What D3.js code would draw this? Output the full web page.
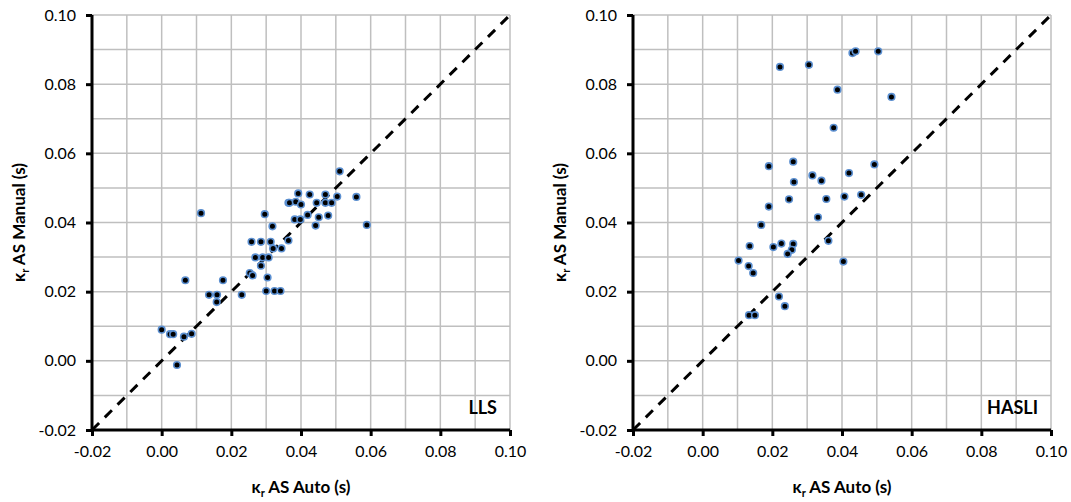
<!DOCTYPE html>
<html>
<head>
<meta charset="utf-8">
<script src="https://cdn.jsdelivr.net/npm/d3@7"></script>
<style>
  html, body { margin: 0; padding: 0; background: #fff; }
  svg { display: block; }
</style>
</head>
<body>
<div id="chart"></div>
<script>
(function () {
  'use strict';

  /* ---------- Data ---------- */
  const llsAuto = [
    0.0113, 0.0068, 0.0000, 0.0024, 0.0033, 0.0044, 0.0064, 0.0086, 0.0136, 0.0159,
    0.0158, 0.0176, 0.0230, 0.0253, 0.0261, 0.0285, 0.0269, 0.0290, 0.0307, 0.0258,
    0.0285, 0.0313, 0.0320, 0.0344, 0.0364, 0.0296, 0.0318, 0.0364, 0.0304, 0.0300,
    0.0324, 0.0341, 0.0511, 0.0392, 0.0425, 0.0470, 0.0367, 0.0385, 0.0400, 0.0445,
    0.0470, 0.0488, 0.0504, 0.0559, 0.0382, 0.0398, 0.0419, 0.0451, 0.0478, 0.0442,
    0.0589
  ];
  const llsManual = [
    0.0427, 0.0233, 0.0090, 0.0077, 0.0077, -0.0012, 0.0070, 0.0078, 0.0191, 0.0191,
    0.0170, 0.0233, 0.0191, 0.0254, 0.0247, 0.0275, 0.0299, 0.0299, 0.0299, 0.0344,
    0.0344, 0.0344, 0.0325, 0.0325, 0.0348, 0.0424, 0.0389, 0.0457, 0.0241, 0.0202,
    0.0202, 0.0202, 0.0548, 0.0484, 0.0481, 0.0481, 0.0457, 0.0460, 0.0452, 0.0457,
    0.0457, 0.0457, 0.0475, 0.0474, 0.0409, 0.0409, 0.0422, 0.0415, 0.0420, 0.0391,
    0.0393
  ];

  const hasliAuto = [
    0.0222, 0.0305, 0.0430, 0.0439, 0.0504, 0.0387, 0.0542, 0.0376, 0.0190, 0.0260,
    0.0315, 0.0341, 0.0420, 0.0493, 0.0262, 0.0248, 0.0355, 0.0407, 0.0455, 0.0190,
    0.0331, 0.0168, 0.0135, 0.0203, 0.0226, 0.0260, 0.0256, 0.0244, 0.0361, 0.0103,
    0.0132, 0.0145, 0.0404, 0.0219, 0.0236, 0.0133, 0.0150
  ];
  const hasliManual = [
    0.0850, 0.0856, 0.0890, 0.0895, 0.0895, 0.0784, 0.0763, 0.0674, 0.0563, 0.0576,
    0.0536, 0.0521, 0.0543, 0.0568, 0.0517, 0.0467, 0.0468, 0.0475, 0.0480, 0.0446,
    0.0415, 0.0393, 0.0332, 0.0329, 0.0339, 0.0338, 0.0321, 0.0309, 0.0347, 0.0290,
    0.0274, 0.0254, 0.0287, 0.0186, 0.0158, 0.0132, 0.0132
  ];

  const tickValues = [-0.02, 0.00, 0.02, 0.04, 0.06, 0.08, 0.10];
  const gridValues = d3.range(-2, 11).map(i => i / 100);
  const xTitle = 'AS Auto (s)';
  const yTitle = 'AS Manual (s)';

  const panels = [
    { name: 'LLS',   auto: llsAuto,   manual: llsManual,   left: 92 },
    { name: 'HASLI', auto: hasliAuto, manual: hasliManual, left: 633 }
  ];

  /* ---------- Layout ---------- */
  const W = 1071, H = 502;
  const plotW = 418, top = 15, bottom = 430;
  const font = 'Lato, "Open Sans", sans-serif';
  const fmt = d => d3.format('.2f')(d).replace('−', '-');

  const svg = d3.select('#chart').append('svg')
    .attr('width', W).attr('height', H);

  panels.forEach(p => {
    const x = d3.scaleLinear().domain([-0.02, 0.10]).range([p.left, p.left + plotW]);
    const y = d3.scaleLinear().domain([-0.02, 0.10]).range([bottom, top]);
    const g = svg.append('g');

    // grid
    g.append('g').selectAll('line.v').data(gridValues).join('line')
      .attr('x1', d => x(d)).attr('x2', d => x(d))
      .attr('y1', top).attr('y2', bottom)
      .attr('stroke', '#bfbfbf').attr('stroke-width', 1.5);
    g.append('g').selectAll('line.h').data(gridValues).join('line')
      .attr('x1', p.left).attr('x2', p.left + plotW)
      .attr('y1', d => y(d)).attr('y2', d => y(d))
      .attr('stroke', '#bfbfbf').attr('stroke-width', 1.5);

    // axes
    const xAxis = d3.axisBottom(x).tickValues(tickValues).tickSize(6).tickPadding(10)
      .tickFormat(fmt);
    const yAxis = d3.axisLeft(y).tickValues(tickValues).tickSize(6).tickPadding(10)
      .tickFormat(fmt);

    const gx = g.append('g').attr('transform', `translate(0,${bottom})`).call(xAxis);
    const gy = g.append('g').attr('transform', `translate(${p.left},0)`).call(yAxis);
    [gx, gy].forEach(a => {
      a.select('.domain').attr('stroke', '#000').attr('stroke-width', 3);
      a.selectAll('.tick line').attr('stroke', '#000').attr('stroke-width', 3);
      a.selectAll('.tick text')
        .attr('font-family', font).attr('font-size', 16).attr('fill', '#000');
    });
    gy.select('.domain').attr('d', `M0,${top}V${bottom}`);
    gx.select('.domain').attr('d', `M${p.left},0H${p.left + plotW}`);

    // 1:1 line
    g.append('line')
      .attr('x1', x(-0.02)).attr('y1', y(-0.02))
      .attr('x2', x(0.10)).attr('y2', y(0.10))
      .attr('stroke', '#000').attr('stroke-width', 3)
      .attr('stroke-dasharray', '10,8');

    // points
    g.append('g').selectAll('circle')
      .data(p.auto.map((a, i) => [a, p.manual[i]]))
      .join('circle')
      .attr('cx', d => x(d[0])).attr('cy', d => y(d[1]))
      .attr('r', 3.3)
      .attr('fill', '#000')
      .attr('stroke', '#5b8fd0').attr('stroke-width', 1.6);

    // panel name
    g.append('text')
      .attr('x', p.left + plotW - 13).attr('y', bottom - 16)
      .attr('text-anchor', 'end')
      .attr('font-family', font).attr('font-size', 18).attr('font-weight', 700)
      .text(p.name);

    // axis titles
    const xt = g.append('text')
      .attr('x', p.left + plotW / 2).attr('y', 493)
      .attr('text-anchor', 'middle')
      .attr('font-family', font).attr('font-size', 17).attr('font-weight', 700);
    xt.append('tspan').text('κ');
    xt.append('tspan').attr('font-size', 11).attr('dy', 4).text('r');
    xt.append('tspan').attr('dy', -4).text(' ' + xTitle);

    const yt = g.append('text')
      .attr('transform', `translate(${p.left - 67},${(top + bottom) / 2}) rotate(-90)`)
      .attr('text-anchor', 'middle')
      .attr('font-family', font).attr('font-size', 17).attr('font-weight', 700);
    yt.append('tspan').text('κ');
    yt.append('tspan').attr('font-size', 11).attr('dy', 4).text('r');
    yt.append('tspan').attr('dy', -4).text(' ' + yTitle);
  });
})();
</script>
</body>
</html>
